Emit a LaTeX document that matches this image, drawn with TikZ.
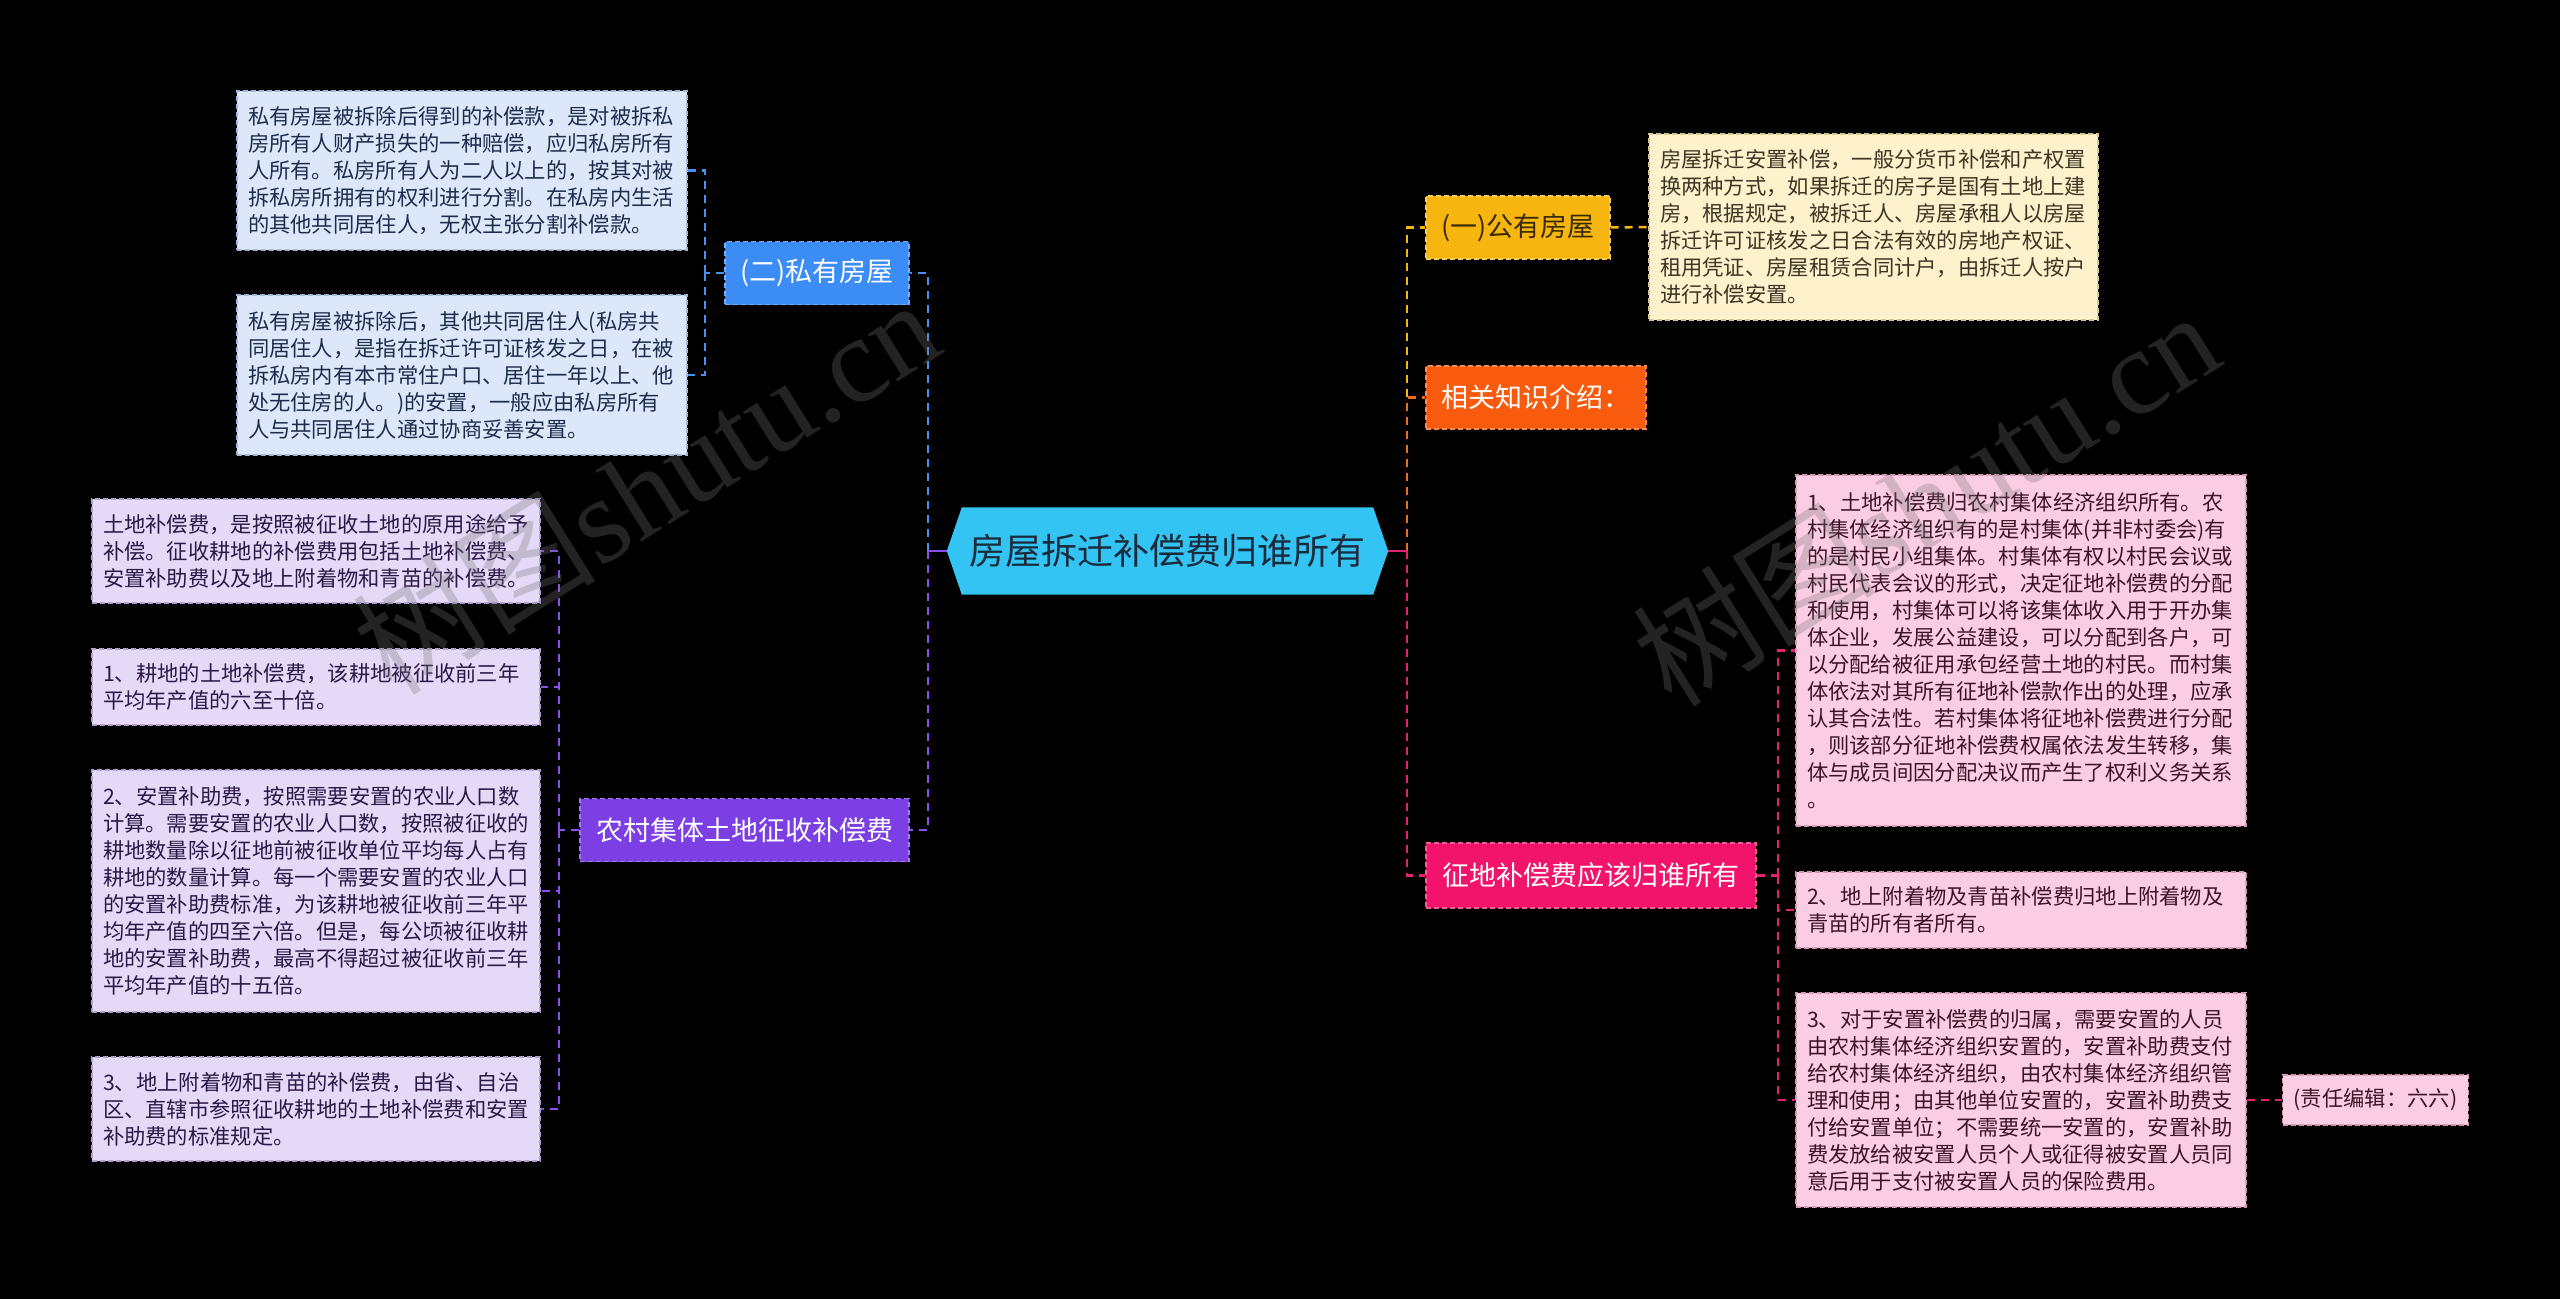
\documentclass[tikz,border=0pt]{standalone}
\usepackage{fontspec}
\setmainfont{Noto Sans CJK SC}
\newfontfamily\wmserif{Liberation Serif}
\usetikzlibrary{backgrounds}
\definecolor{blueN}{HTML}{3C8CF5}
\definecolor{blueB}{HTML}{DCE8FA}
\definecolor{blueBd}{HTML}{9DB6DB}
\definecolor{blueT}{HTML}{1E2C4C}
\definecolor{purN}{HTML}{7B3FE4}
\definecolor{purB}{HTML}{E4D9F7}
\definecolor{purBd}{HTML}{B09FD0}
\definecolor{purT}{HTML}{2A1846}
\definecolor{yelN}{HTML}{F6B50F}
\definecolor{yelT}{HTML}{3A2A05}
\definecolor{creamB}{HTML}{FDF2CC}
\definecolor{creamBd}{HTML}{D6C894}
\definecolor{creamT}{HTML}{3E3522}
\definecolor{orgN}{HTML}{F95B0E}
\definecolor{pinkN}{HTML}{F2136B}
\definecolor{pinkB}{HTML}{FBCDE2}
\definecolor{pinkBd}{HTML}{D99AB8}
\definecolor{pinkT}{HTML}{3B1428}
\definecolor{cyanC}{HTML}{33C4F4}
\definecolor{cyanT}{HTML}{1A2B3C}
\definecolor{cBlue}{HTML}{4A90F0}
\definecolor{cPur}{HTML}{8B4DEB}
\definecolor{cYel}{HTML}{F5B80F}
\definecolor{cOrg}{HTML}{F26A1C}
\definecolor{cPink}{HTML}{E5226E}
\definecolor{wmgray}{HTML}{747474}
\tikzset{
  conn/.style={line width=2.5pt, dash pattern=on 8pt off 6pt},
  stub/.style={line width=2.5pt},
  txtbox/.style={rectangle, line width=1.2pt, dash pattern=on 5pt off 3pt,
    inner xsep=11pt, inner ysep=0pt, align=left,
    font=\fontsize{21.3}{27}\selectfont},
  branch/.style={rectangle, line width=1.2pt, dash pattern=on 5pt off 3pt,
    inner sep=0pt, minimum height=63pt, font=\fontsize{27}{30}\selectfont},
  wm/.style={text=wmgray, text opacity=0.3, inner sep=0pt,
    font=\fontsize{122}{122}\selectfont, rotate=32},
}
\begin{document}
\begin{tikzpicture}[x=1pt,y=-1pt]
\useasboundingbox (0,0) rectangle (2560,1299);
\begin{scope}[on background layer]
\fill[black] (0,0) rectangle (2560,1299);
\end{scope}

% central node
\node[inner sep=0pt, minimum width=441pt, minimum height=87pt, text=cyanT,
  font=\fontsize{36}{40}\selectfont] (c) at (1167.5,551) {房屋拆迁补偿费归谁所有};
\begin{scope}[on background layer]
\fill[cyanC] (c.west) -- ([xshift=15pt]c.north west) -- ([xshift=-15pt]c.north east)
  -- (c.east) -- ([xshift=-15pt]c.south east) -- ([xshift=15pt]c.south west) -- cycle;
\end{scope}

% branch nodes
\node[branch, fill=blueN, draw=blueN!70!white, text=white, minimum width=184pt] (pri) at (817,273) {(二)私有房屋};
\node[branch, fill=purN, draw=purN!70!white, text=white, minimum width=329pt] (rur) at (744.5,830) {农村集体土地征收补偿费};
\node[branch, fill=yelN, draw=yelN!70!white, text=yelT, minimum width=184pt] (pub) at (1518,227.5) {(一)公有房屋};
\node[branch, fill=orgN, draw=orgN!70!white, text=white, minimum width=220pt] (rel) at (1536,397.5) {相关知识介绍：};
\node[branch, fill=pinkN, draw=pinkN!70!white, text=white, minimum width=330pt, minimum height=65pt] (zd) at (1591,875.5) {征地补偿费应该归谁所有};

% text boxes
\node[txtbox, fill=blueB, draw=blueBd, text=blueT, minimum width=450pt, text width=428pt, minimum height=159pt] (b1) at (462,170.5) {私有房屋被拆除后得到的补偿款，是对被拆私\\房所有人财产损失的一种赔偿，应归私房所有\\人所有。私房所有人为二人以上的，按其对被\\拆私房所拥有的权利进行分割。在私房内生活\\的其他共同居住人，无权主张分割补偿款。};
\node[txtbox, fill=blueB, draw=blueBd, text=blueT, minimum width=450pt, text width=428pt, minimum height=160pt] (b2) at (462,375) {私有房屋被拆除后，其他共同居住人(私房共\\同居住人，是指在拆迁许可证核发之日，在被\\拆私房内有本市常住户口、居住一年以上、他\\处无住房的人。)的安置，一般应由私房所有\\人与共同居住人通过协商妥善安置。};

\node[txtbox, fill=purB, draw=purBd, text=purT, minimum width=448pt, text width=426pt, minimum height=104pt] (p1) at (316,551) {土地补偿费，是按照被征收土地的原用途给予\\补偿。征收耕地的补偿费用包括土地补偿费、\\安置补助费以及地上附着物和青苗的补偿费。};
\node[txtbox, fill=purB, draw=purBd, text=purT, minimum width=448pt, text width=426pt, minimum height=76pt] (p2) at (316,687) {1、耕地的土地补偿费，该耕地被征收前三年\\平均年产值的六至十倍。};
\node[txtbox, fill=purB, draw=purBd, text=purT, minimum width=448pt, text width=426pt, minimum height=242pt] (p3) at (316,891) {2、安置补助费，按照需要安置的农业人口数\\计算。需要安置的农业人口数，按照被征收的\\耕地数量除以征地前被征收单位平均每人占有\\耕地的数量计算。每一个需要安置的农业人口\\的安置补助费标准，为该耕地被征收前三年平\\均年产值的四至六倍。但是，每公顷被征收耕\\地的安置补助费，最高不得超过被征收前三年\\平均年产值的十五倍。};
\node[txtbox, fill=purB, draw=purBd, text=purT, minimum width=448pt, text width=426pt, minimum height=104pt] (p4) at (316,1109) {3、地上附着物和青苗的补偿费，由省、自治\\区、直辖市参照征收耕地的土地补偿费和安置\\补助费的标准规定。};

\node[txtbox, fill=creamB, draw=creamBd, text=creamT, minimum width=449pt, text width=427pt, minimum height=186pt] (cr) at (1873.5,227) {房屋拆迁安置补偿，一般分货币补偿和产权置\\换两种方式，如果拆迁的房子是国有土地上建\\房，根据规定，被拆迁人、房屋承租人以房屋\\拆迁许可证核发之日合法有效的房地产权证、\\租用凭证、房屋租赁合同计户，由拆迁人按户\\进行补偿安置。};

\node[txtbox, fill=pinkB, draw=pinkBd, text=pinkT, minimum width=450pt, text width=428pt, minimum height=351pt] (k1) at (2021,650.5) {1、土地补偿费归农村集体经济组织所有。农\\村集体经济组织有的是村集体(并非村委会)有\\的是村民小组集体。村集体有权以村民会议或\\村民代表会议的形式，决定征地补偿费的分配\\和使用，村集体可以将该集体收入用于开办集\\体企业，发展公益建设，可以分配到各户，可\\以分配给被征用承包经营土地的村民。而村集\\体依法对其所有征地补偿款作出的处理，应承\\认其合法性。若村集体将征地补偿费进行分配\\，则该部分征地补偿费权属依法发生转移，集\\体与成员间因分配决议而产生了权利义务关系\\。};
\node[txtbox, fill=pinkB, draw=pinkBd, text=pinkT, minimum width=450pt, text width=428pt, minimum height=76pt] (k2) at (2021,910) {2、地上附着物及青苗补偿费归地上附着物及\\青苗的所有者所有。};
\node[txtbox, fill=pinkB, draw=pinkBd, text=pinkT, minimum width=450pt, text width=428pt, minimum height=214pt] (k3) at (2021,1100) {3、对于安置补偿费的归属，需要安置的人员\\由农村集体经济组织安置的，安置补助费支付\\给农村集体经济组织，由农村集体经济组织管\\理和使用；由其他单位安置的，安置补助费支\\付给安置单位；不需要统一安置的，安置补助\\费发放给被安置人员个人或征得被安置人员同\\意后用于支付被安置人员的保险费用。};
\node[txtbox, fill=pinkB, draw=pinkBd, text=pinkT, minimum width=185pt, minimum height=50pt, align=center] (ed) at (2375.5,1100) {(责任编辑：六六)};

% junctions
\coordinate (jl) at (928,551);
\coordinate (jr) at (1407,551);
\coordinate (bj) at (705,273);
\coordinate (pj) at (559,830);
\coordinate (kj) at (1778,875.5);

% main connectors
\draw[conn, cBlue] (jl) |- (pri.east);
\draw[conn, cPur] (jl) |- (rur.east);
\draw[stub, cPur] (jl) -- (c.west);
\draw[conn, cYel] (jr) |- (pub.west);
\draw[conn, cOrg] (jr) |- (rel.west);
\draw[conn, cPink] (jr) |- (zd.west);
\draw[stub, cPink] (c.east) -- (jr);

% branch connectors
\draw[conn, cBlue] (pri.west) -- (bj);
\draw[conn, cBlue] (bj) |- (b1.east);
\draw[conn, cBlue] (bj) |- (b2.east);
\draw[conn, cPur] (rur.west) -- (pj);
\draw[conn, cPur] (pj) |- (p1.east);
\draw[conn, cPur] (pj) |- (p2.east);
\draw[conn, cPur] (pj) |- (p3.east);
\draw[conn, cPur] (pj) |- (p4.east);
\draw[conn, cYel] (pub.east) -- (cr.west);
\draw[conn, cPink] (zd.east) -- (kj);
\draw[conn, cPink] (kj) |- (k1.west);
\draw[conn, cPink] (kj) |- (k2.west);
\draw[conn, cPink] (kj) |- (k3.west);
\draw[conn, cPink] (k3.east) -- (ed.west);

% watermarks
\node[wm] (wm1) at (645,485) {树图{\wmserif shutu.cn}};
\node[wm] (wm2) at (1925,497) {树图{\wmserif shutu.cn}};
\end{tikzpicture}
\end{document}
